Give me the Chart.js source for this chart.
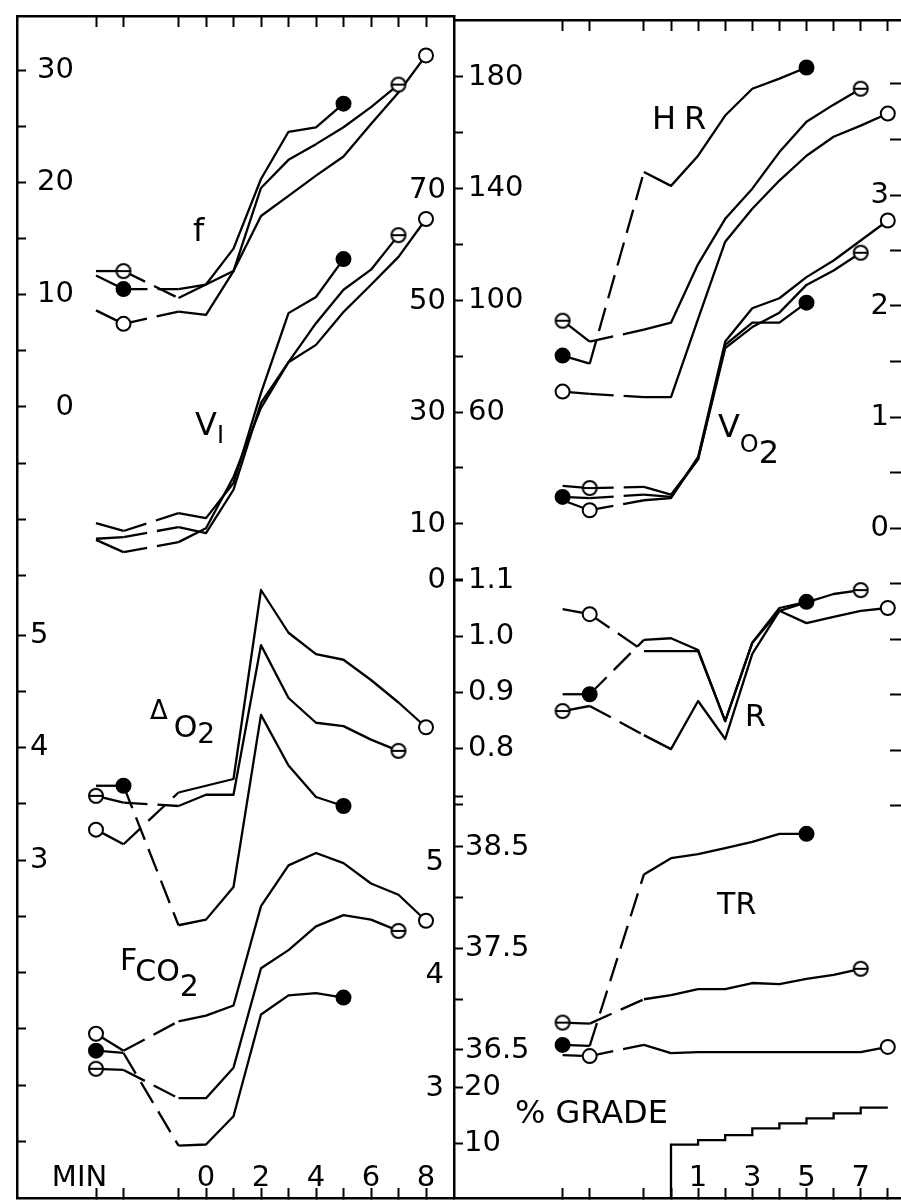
<!DOCTYPE html>
<html>
<head>
<meta charset="utf-8">
<title>Responses to graded walking</title>
<script src="https://cdn.jsdelivr.net/npm/chart.js@4.4.1/dist/chart.umd.min.js"></script>
<style>
  html, body { margin: 0; padding: 0; background: #fff; }
  #sheet { position: relative; width: 901px; height: 1200px; overflow: hidden; background: #fff; }
  #sheet canvas { position: absolute; top: 0; }
  #left { left: 0; }
  #right { left: 441px; }
</style>
</head>
<body>
<div id="sheet">
  <canvas id="left" width="460" height="1200"></canvas>
  <canvas id="right" width="460" height="1200"></canvas>
</div>
<script>
// two resting readings, a break, then minutes -1 .. 8 of the walk
const MINUTES = [-4, -3, -1, 0, 1, 2, 3, 4, 5, 6, 7, 8];

// three subjects: filled dot (stops at 5), barred circle (stops at 7), open circle (stops at 8)
const fFilled = [11.7, 10.5, 10.5, 10.9, 14.1, 20.3, 24.5, 24.9, 27.0];
const fBar    = [12.1, 12.1, 9.7, 10.9, 12.1, 19.5, 22.0, 23.4, 24.9, 26.7, 28.7];
const fOpen   = [8.6, 7.4, 8.5, 8.2, 12.1, 17.0, 18.8, 20.6, 22.3, 25.2, 28.0, 31.3];

const viFilled = [10.2, 8.8, 12.0, 11.1, 17.4, 33.6, 47.9, 50.8, 57.6];
const viBar    = [7.4, 7.7, 9.5, 8.4, 16.2, 31.8, 39.1, 46.1, 52.1, 55.7, 61.9];
const viOpen   = [7.2, 5.0, 6.8, 9.3, 18.5, 30.9, 39.1, 42.2, 48.1, 53.0, 58.0, 64.8];

const do2Filled = [3.66, 3.66, 2.42, 2.47, 2.76, 4.29, 3.84, 3.56, 3.48];
const do2Bar    = [3.57, 3.51, 3.48, 3.58, 3.58, 4.91, 4.44, 4.22, 4.19, 4.07, 3.97];
const do2Open   = [3.27, 3.14, 3.60, 3.66, 3.72, 5.40, 5.02, 4.83, 4.78, 4.60, 4.40, 4.18];

const fco2Filled = [3.33, 3.31, 2.49, 2.50, 2.75, 3.65, 3.82, 3.84, 3.80];
const fco2Bar    = [3.17, 3.16, 2.91, 2.91, 3.18, 4.06, 4.22, 4.43, 4.53, 4.49, 4.39];
const fco2Open   = [3.48, 3.33, 3.59, 3.64, 3.73, 4.61, 4.97, 5.08, 4.99, 4.81, 4.71, 4.48];

const hrFilled = [80.2, 77.3, 146.0, 141.0, 151.8, 166.2, 175.8, 179.4, 183.4];
const hrBar    = [92.7, 85.2, 89.5, 92.0, 113.0, 129.2, 140.0, 153.1, 164.0, 170.1, 175.8];
const hrOpen   = [67.3, 66.5, 65.3, 65.3, 93.4, 121.0, 132.8, 142.9, 151.8, 158.6, 162.6, 166.9];

const vo2Filled = [0.28, 0.27, 0.30, 0.28, 0.62, 1.65, 1.85, 1.85, 2.03];
const vo2Bar    = [0.38, 0.36, 0.37, 0.30, 0.62, 1.62, 1.81, 1.94, 2.19, 2.32, 2.48];
const vo2Open   = [0.25, 0.16, 0.25, 0.27, 0.64, 1.68, 1.98, 2.07, 2.26, 2.41, 2.59, 2.77];

const rFilled = [0.896, 0.896, 0.993, 0.996, 0.975, 0.848, 0.988, 1.050, 1.061];
const rBar    = [0.866, 0.875, 0.823, 0.798, 0.884, 0.816, 0.968, 1.045, 1.060, 1.075, 1.082];
const rOpen   = [1.048, 1.039, 0.973, 0.973, 0.973, 0.848, 0.988, 1.045, 1.023, 1.034, 1.045, 1.050];

const trFilled = [36.55, 36.54, 38.23, 38.39, 38.43, 38.49, 38.55, 38.63, 38.63];
const trBar    = [36.77, 36.76, 37.00, 37.04, 37.10, 37.10, 37.16, 37.15, 37.20, 37.24, 37.30];
const trOpen   = [36.45, 36.44, 36.55, 36.47, 36.48, 36.48, 36.48, 36.48, 36.48, 36.48, 36.48, 36.53];

const gradeMinutes = [0, 0, 1, 2, 3, 4, 5, 6, 7, 8];
const gradePct     = [0, 9.7, 10.5, 11.4, 12.6, 13.5, 14.4, 15.3, 16.3, 16.3];

// tick labels
const F_LABELS = [0, 10, 20, 30];
const VI_LABELS = [0, 10, 30, 50, 70];
const DO2_LABELS = [3, 4, 5];
const FCO2_LABELS = [3, 4, 5];
const HR_LABELS = [60, 100, 140, 180];
const R_LABELS = [0.8, 0.9, 1.0, 1.1];
const TR_LABELS = [36.5, 37.5, 38.5];
const GRADE_LABELS = [10, 20];
const VO2_LABELS = [0, 1, 2, 3];
const MIN_LEFT = ['MIN', '0', '2', '4', '6', '8'];
const MIN_RIGHT = ['1', '3', '5', '7'];

const BLACK = '#000';
const FONT = 'DejaVu Sans';
const TICK_FONT = { family: FONT, size: 29 };
const X_TICKS = [-4, -3, -1, 0, 1, 2, 3, 4, 5, 6, 7, 8];
const MIN_AT = -4.6;

function seq(lo, hi, step) {
  const out = [];
  const n = Math.round((hi - lo) / step);
  for (let i = 0; i <= n; i++) out.push(+(lo + i * step).toFixed(3));
  return out;
}

// axis range from two calibration marks
function yRange(vA, pA, vB, pB, top, bottom) {
  const k = (pB - pA) / (vA - vB);
  return { min: vA - (bottom - pA) / k, max: vA + (pA - top) / k };
}
function xRange(zeroPx, stepPx, left, right) {
  return { min: (left - zeroPx) / stepPx, max: (right - zeroPx) / stepPx };
}

// axes take no room: zero thickness, no label padding, labels mirrored inside the frame
function flatten(s, horizontal) {
  if (horizontal) s.height = 0; else s.width = 0;
  s.paddingTop = s.paddingBottom = s.paddingLeft = s.paddingRight = 0;
}

function yAxis(o) {
  return {
    type: 'linear', position: o.position, min: o.range.min, max: o.range.max,
    afterFit(s) { flatten(s, false); },
    afterBuildTicks(s) { s.ticks = o.ticks.map(v => ({ value: v })); },
    grid: { drawOnChartArea: false, drawTicks: !!o.tick, tickLength: o.tick || 0, tickColor: BLACK, tickWidth: 2 },
    border: { display: !!o.border, color: BLACK, width: 2.5 },
    ticks: {
      autoSkip: false, mirror: true, crossAlign: o.align || 'near', padding: o.pad, color: BLACK, font: TICK_FONT,
      callback: v => o.labels.includes(+v.toFixed(3)) ? (o.fmt ? o.fmt(v) : String(v)) : ''
    }
  };
}

function xAxis(o) {
  return {
    type: 'linear', position: o.position, min: o.range.min, max: o.range.max,
    afterFit(s) { flatten(s, true); },
    afterBuildTicks(s) { s.ticks = o.ticks.map(v => ({ value: v })); },
    grid: {
      drawOnChartArea: false, tickLength: o.tick, tickWidth: 2,
      tickColor: c => (c.tick && c.tick.value === MIN_AT) ? 'rgba(0,0,0,0)' : BLACK
    },
    border: { display: true, color: BLACK, width: 2.5 },
    ticks: {
      display: !!o.labels, autoSkip: false, maxRotation: 0, minRotation: 0, mirror: true,
      padding: o.pad || 0, color: BLACK, font: TICK_FONT,
      callback: v => (o.labels && o.labels[v] !== undefined) ? o.labels[v] : ''
    }
  };
}

// circle with a bar through it
const ringBar = (() => {
  const c = document.createElement('canvas');
  c.width = c.height = 18;
  const g = c.getContext('2d');
  g.lineWidth = 2; g.strokeStyle = BLACK; g.fillStyle = '#fff';
  g.beginPath(); g.arc(9, 9, 7, 0, Math.PI * 2); g.fill(); g.stroke();
  g.beginPath(); g.moveTo(2, 9); g.lineTo(16, 9); g.stroke();
  return c;
})();

function line(values, axis, kind, restMarks) {
  const last = values.length - 1;
  return {
    data: values.map((v, i) => ({ x: MINUTES[i], y: v })),
    xAxisID: 'x', yAxisID: axis,
    borderColor: BLACK, borderWidth: 2.3, tension: 0, fill: false, borderJoinStyle: 'round',
    pointStyle: kind === 'bar' ? ringBar : 'circle',
    pointBackgroundColor: kind === 'filled' ? BLACK : '#fff',
    pointBorderColor: BLACK, pointBorderWidth: 2,
    pointRadius: c => (c.dataIndex === last || restMarks.includes(c.dataIndex)) ? 7 : 0,
    pointHoverRadius: 0,
    segment: { borderDash: c => (c.p0.parsed.x < -2 && c.p1.parsed.x > -2) ? [24, 10] : undefined }
  };
}

const names = {
  id: 'names',
  afterDraw(chart, args, opts) {
    const ctx = chart.ctx;
    const xs = chart.scales.x;
    ctx.save();
    ctx.fillStyle = BLACK;
    ctx.textBaseline = 'middle';
    ctx.textAlign = 'left';
    for (const item of opts.items) {
      let px = xs.getPixelForValue(item.at[0]);
      const py = chart.scales[item.axis].getPixelForValue(item.at[1]);
      for (const p of item.parts) {
        ctx.font = p.size + 'px "' + FONT + '"';
        ctx.fillText(p.t, px, py + (p.dy || 0));
        px += ctx.measureText(p.t).width + (p.gap || 0);
      }
    }
    ctx.restore();
  }
};

const labelMap = (vals, texts) => Object.fromEntries(vals.map((v, i) => [v, texts[i]]));

// ---- left panel ----
const L = { top: 16, bottom: 1198, left: 17, right: 454 };
const lx = xRange(206, 27.5, L.left, L.right);

new Chart(document.getElementById('left'), {
  type: 'line',
  data: {
    datasets: [
      line(fFilled, 'yF', 'filled', [1]), line(fBar, 'yF', 'bar', [1]), line(fOpen, 'yF', 'open', [1]),
      line(viFilled, 'yVI', 'filled', []), line(viBar, 'yVI', 'bar', []), line(viOpen, 'yVI', 'open', []),
      line(do2Filled, 'yDO2', 'filled', [1]), line(do2Bar, 'yDO2', 'bar', [0]), line(do2Open, 'yDO2', 'open', [0]),
      line(fco2Filled, 'yFCO2', 'filled', [0]), line(fco2Bar, 'yFCO2', 'bar', [0]), line(fco2Open, 'yFCO2', 'open', [0])
    ]
  },
  options: {
    responsive: false, animation: false, events: [],
    layout: { padding: { left: L.left, right: 460 - L.right, top: L.top, bottom: 1200 - L.bottom }, autoPadding: false },
    plugins: {
      legend: { display: false }, tooltip: { enabled: false },
      names: { items: [
        { axis: 'yF', at: [-0.47, 15.5], parts: [{ t: 'f', size: 32 }] },
        { axis: 'yVI', at: [-0.40, 27.5], parts: [{ t: 'V', size: 32 }, { t: 'I', size: 24, dy: 10 }] },
        { axis: 'yDO2', at: [-2.04, 4.16], parts: [{ t: 'Δ', size: 26, dy: -17, gap: 6 }, { t: 'O', size: 30 }, { t: '2', size: 28, dy: 6 }] },
        { axis: 'yFCO2', at: [-3.13, 4.115], parts: [{ t: 'F', size: 30, gap: -2 }, { t: 'CO', size: 30, dy: 11 }, { t: '2', size: 30, dy: 26 }] }
      ] }
    },
    scales: {
      x: xAxis({ position: 'bottom', range: lx, ticks: [MIN_AT].concat(X_TICKS), tick: -10, pad: 2,
                 labels: labelMap([MIN_AT, 0, 2, 4, 6, 8], MIN_LEFT) }),
      xTop: xAxis({ position: 'top', range: lx, ticks: X_TICKS, tick: -11 }),
      yF: yAxis({ position: 'left', range: yRange(30, 70, 0, 407, L.top, L.bottom), ticks: seq(-15, 30, 5),
                  labels: F_LABELS, tick: -9, align: 'far', pad: 20, border: true }),
      yDO2: yAxis({ position: 'left', range: yRange(5, 635, 3, 860, L.top, L.bottom), ticks: seq(0.5, 5, 0.5),
                    labels: DO2_LABELS, tick: -9, align: 'far', pad: 13 }),
      yVI: yAxis({ position: 'right', range: yRange(70, 190, 0, 580, L.top, L.bottom), ticks: VI_LABELS,
                   labels: VI_LABELS, pad: -8, border: true }),
      yFCO2: yAxis({ position: 'right', range: yRange(5, 862, 3, 1088, L.top, L.bottom), ticks: FCO2_LABELS,
                     labels: FCO2_LABELS, pad: -10 })
    }
  },
  plugins: [names]
});

// ---- right panel ----
const R = { top: 20, bottom: 1198, left: 454, right: 901 };
const rx = xRange(671, 27.1, R.left, R.right);
const oneDec = v => v.toFixed(1);

new Chart(document.getElementById('right'), {
  type: 'line',
  data: {
    datasets: [
      line(hrFilled, 'yHR', 'filled', [0]), line(hrBar, 'yHR', 'bar', [0]), line(hrOpen, 'yHR', 'open', [0]),
      line(vo2Filled, 'yVO2', 'filled', [0]), line(vo2Bar, 'yVO2', 'bar', [1]), line(vo2Open, 'yVO2', 'open', [1]),
      line(rFilled, 'yR', 'filled', [1]), line(rBar, 'yR', 'bar', [0]), line(rOpen, 'yR', 'open', [1]),
      line(trFilled, 'yTR', 'filled', [0]), line(trBar, 'yTR', 'bar', [0]), line(trOpen, 'yTR', 'open', [1]),
      {
        data: gradeMinutes.map((m, i) => ({ x: m, y: gradePct[i] })),
        xAxisID: 'x', yAxisID: 'yGR', stepped: 'before',
        borderColor: BLACK, borderWidth: 2.3, pointRadius: 0, fill: false
      }
    ]
  },
  options: {
    responsive: false, animation: false, events: [],
    layout: { padding: { left: R.left - 441, right: 0, top: R.top, bottom: 1200 - R.bottom }, autoPadding: false },
    plugins: {
      legend: { display: false }, tooltip: { enabled: false },
      names: { items: [
        { axis: 'yHR', at: [-0.70, 164.4], parts: [{ t: 'H', size: 32, gap: 8 }, { t: 'R', size: 32 }] },
        { axis: 'yVO2', at: [1.73, 0.892], parts: [{ t: 'V', size: 32 }, { t: 'O', size: 24, dy: 17 }, { t: '2', size: 32, dy: 26 }] },
        { axis: 'yR', at: [2.73, 0.854], parts: [{ t: 'R', size: 30 }] },
        { axis: 'yTR', at: [1.70, 37.92], parts: [{ t: 'TR', size: 30 }] },
        { axis: 'yGR', at: [-5.76, 15.0], parts: [{ t: '% GRADE', size: 32 }] }
      ] }
    },
    scales: {
      x: xAxis({ position: 'bottom', range: rx, ticks: X_TICKS, tick: -10, pad: 2,
                 labels: labelMap([1, 3, 5, 7], MIN_RIGHT) }),
      xTop: xAxis({ position: 'top', range: rx, ticks: X_TICKS, tick: -11 }),
      yHR: yAxis({ position: 'left', range: yRange(180, 77, 60, 412, R.top, R.bottom), ticks: seq(0, 180, 20),
                   labels: HR_LABELS, tick: -9, pad: 14 }),
      yR: yAxis({ position: 'left', range: yRange(1.1, 580, 0.8, 748, R.top, R.bottom), ticks: seq(0.7, 1.1, 0.1),
                  labels: R_LABELS, fmt: oneDec, tick: -9, pad: 14 }),
      yTR: yAxis({ position: 'left', range: yRange(38.5, 847, 36.5, 1050, R.top, R.bottom), ticks: seq(36.5, 39, 0.5),
                   labels: TR_LABELS, fmt: oneDec, tick: -9, pad: 11 }),
      yGR: yAxis({ position: 'left', range: yRange(20, 1087, 10, 1143, R.top, R.bottom), ticks: GRADE_LABELS,
                   labels: GRADE_LABELS, tick: -9, pad: 10 }),
      yVO2: yAxis({ position: 'right', range: yRange(3, 195, 0, 528, R.top, R.bottom), ticks: seq(-2.5, 4, 0.5),
                    labels: VO2_LABELS, tick: -11, pad: -12 })
    }
  },
  plugins: [names]
});
</script>
</body>
</html>
